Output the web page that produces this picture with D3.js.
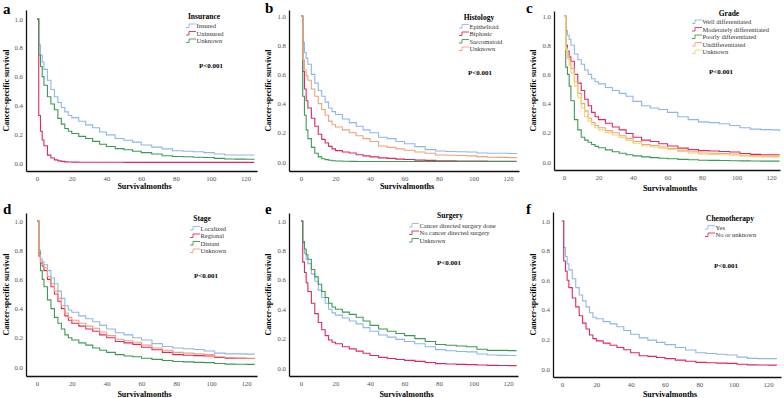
<!DOCTYPE html>
<html><head><meta charset="utf-8">
<script src="https://cdn.jsdelivr.net/npm/d3@7"></script>
<style>
body{margin:0;background:#fff;}
svg{display:block;font-family:"Liberation Serif","DejaVu Serif",serif;}
</style></head>
<body><svg id="c" width="784" height="398"></svg>
<script>
// ---------- DATA ----------
const months = [0,1,2,3,4,6,8,10,12,14,16,18,20,24,28,32,36,40,45,50,55,60,66,72,78,84,90,96,102,108,114,120,125];
const xTicks = [0,20,40,60,80,100,120];
const yTicks = [0,0.2,0.4,0.6,0.8,1.0];

// a: Insurance
const insInsured   = [1,0.82,0.75,0.70,0.65,0.575,0.51,0.46,0.42,0.385,0.355,0.33,0.315,0.29,0.265,0.245,0.215,0.195,0.17,0.158,0.145,0.125,0.11,0.098,0.085,0.082,0.078,0.072,0.062,0.056,0.056,0.056,0.055];
const insUninsured = [1,0.33,0.22,0.16,0.12,0.055,0.035,0.022,0.015,0.011,0.008,0.007,0.006,0.005,0.005,0.005,0.005,0.005,0.005,0.004,0.004,0.004,0.004,0.004,0.004,0.004,0.004,0.004,0.004,0.004,0.004,0.004,0.004];
const insUnknown   = [1,0.75,0.67,0.60,0.54,0.46,0.41,0.37,0.31,0.27,0.24,0.22,0.205,0.185,0.17,0.15,0.13,0.115,0.10,0.092,0.082,0.072,0.062,0.05,0.045,0.043,0.04,0.038,0.032,0.028,0.027,0.026,0.025];

// b: Histology
const hisEpithelioid = [1,0.82,0.75,0.71,0.67,0.60,0.54,0.49,0.45,0.41,0.37,0.345,0.325,0.295,0.27,0.245,0.22,0.20,0.17,0.16,0.14,0.125,0.105,0.085,0.075,0.072,0.07,0.068,0.062,0.06,0.06,0.058,0.055];
const hisBiphasic    = [1,0.62,0.50,0.42,0.37,0.30,0.245,0.19,0.155,0.13,0.107,0.09,0.078,0.068,0.062,0.05,0.042,0.035,0.028,0.025,0.02,0.017,0.013,0.011,0.009,0.008,0.007,0.006,0.006,0.005,0.005,0.005,0.005];
const hisSarcomatoid = [1,0.45,0.32,0.22,0.16,0.10,0.06,0.035,0.022,0.016,0.012,0.009,0.007,0.005,0.004,0.003,0.003,0.003,0.003,0.003,0.003,0.003,0.003,0.003,0.003,0.003,0.003,0.003,0.003,0.003,0.003,0.003,0.003];
const hisUnknown     = [1,0.70,0.63,0.59,0.56,0.50,0.45,0.40,0.36,0.32,0.28,0.255,0.24,0.22,0.20,0.18,0.16,0.14,0.11,0.10,0.09,0.08,0.068,0.06,0.048,0.046,0.045,0.042,0.037,0.033,0.032,0.03,0.028];

// c: Grade
const grWell  = [1,0.90,0.87,0.84,0.80,0.74,0.70,0.67,0.63,0.60,0.57,0.55,0.535,0.51,0.49,0.47,0.45,0.415,0.385,0.37,0.36,0.34,0.31,0.29,0.275,0.27,0.262,0.25,0.235,0.225,0.222,0.22,0.21];
const grMod   = [1,0.80,0.76,0.72,0.69,0.60,0.54,0.49,0.43,0.385,0.34,0.31,0.29,0.265,0.24,0.22,0.195,0.17,0.15,0.14,0.125,0.11,0.095,0.085,0.078,0.075,0.072,0.068,0.058,0.052,0.05,0.05,0.05];
const grPoor  = [1,0.65,0.60,0.52,0.42,0.29,0.22,0.17,0.15,0.135,0.12,0.107,0.098,0.083,0.07,0.06,0.05,0.042,0.035,0.03,0.026,0.022,0.018,0.015,0.012,0.011,0.01,0.009,0.008,0.007,0.006,0.006,0.006];
const grUndiff= [1,0.78,0.73,0.70,0.64,0.55,0.47,0.40,0.35,0.30,0.27,0.25,0.235,0.215,0.20,0.18,0.16,0.14,0.12,0.113,0.103,0.092,0.08,0.07,0.062,0.06,0.058,0.055,0.046,0.042,0.04,0.04,0.04];
const grUnk   = [1,0.77,0.71,0.66,0.61,0.52,0.44,0.37,0.31,0.28,0.255,0.235,0.22,0.20,0.185,0.168,0.148,0.128,0.11,0.103,0.094,0.084,0.072,0.062,0.055,0.052,0.05,0.047,0.04,0.036,0.034,0.033,0.033];

// d: Stage
const stLocal    = [1,0.80,0.74,0.72,0.70,0.66,0.61,0.57,0.52,0.47,0.42,0.39,0.375,0.35,0.33,0.31,0.285,0.26,0.235,0.22,0.20,0.185,0.16,0.14,0.13,0.125,0.12,0.11,0.095,0.09,0.09,0.088,0.088];
const stRegional = [1,0.76,0.71,0.69,0.66,0.60,0.55,0.50,0.45,0.40,0.35,0.32,0.30,0.28,0.26,0.245,0.22,0.20,0.175,0.165,0.155,0.135,0.118,0.10,0.085,0.08,0.078,0.075,0.065,0.06,0.06,0.058,0.058];
const stDistant  = [1,0.78,0.66,0.60,0.55,0.46,0.40,0.34,0.30,0.26,0.22,0.20,0.185,0.165,0.15,0.13,0.115,0.10,0.085,0.075,0.07,0.06,0.052,0.045,0.038,0.035,0.032,0.03,0.024,0.02,0.019,0.018,0.018];
const stUnknown  = [1,0.77,0.72,0.70,0.68,0.62,0.57,0.52,0.47,0.42,0.37,0.34,0.32,0.30,0.28,0.265,0.24,0.215,0.19,0.18,0.17,0.15,0.13,0.115,0.10,0.095,0.09,0.085,0.07,0.065,0.062,0.06,0.06];

// e: Surgery
const suDone    = [1,0.85,0.78,0.74,0.71,0.64,0.59,0.53,0.48,0.44,0.40,0.375,0.36,0.34,0.32,0.30,0.275,0.25,0.225,0.21,0.195,0.18,0.165,0.145,0.125,0.117,0.112,0.11,0.095,0.088,0.086,0.085,0.085];
const suNo      = [1,0.72,0.65,0.58,0.52,0.44,0.37,0.31,0.26,0.22,0.19,0.175,0.165,0.145,0.13,0.115,0.10,0.085,0.072,0.065,0.058,0.052,0.045,0.037,0.03,0.027,0.025,0.023,0.02,0.018,0.017,0.016,0.016];
const suUnknown = [1,0.86,0.81,0.77,0.74,0.67,0.62,0.57,0.52,0.48,0.44,0.415,0.40,0.38,0.365,0.345,0.32,0.29,0.265,0.25,0.235,0.22,0.20,0.18,0.16,0.155,0.15,0.145,0.128,0.12,0.12,0.118,0.118];

// f: Chemotherapy
const chYes = [1,0.82,0.76,0.71,0.67,0.61,0.55,0.50,0.46,0.42,0.38,0.35,0.34,0.32,0.305,0.285,0.26,0.235,0.21,0.195,0.18,0.165,0.145,0.128,0.11,0.105,0.10,0.095,0.08,0.072,0.07,0.07,0.068];
const chNo  = [1,0.73,0.66,0.60,0.55,0.48,0.42,0.36,0.31,0.27,0.23,0.205,0.19,0.175,0.16,0.145,0.13,0.11,0.09,0.085,0.078,0.07,0.06,0.052,0.045,0.042,0.04,0.038,0.032,0.028,0.027,0.026,0.025];

const C = {blue:"#8db8e6", red:"#dc2a5e", green:"#3d9a55", orange:"#f2a07f", yellow:"#f3d56b"};

// ---------- LAYOUT ----------
const panels = [
 {letter:"a", lx:3, ly:14, title:"Insurance", axL:26, axR:257, axT:10, axB:171, x0:37, x120:245.5, y0:163, y1:19,
  legX:186, legTitleY:16, legY0:26, tx:204, px:211, py:65, ytx:6, xty:189,
  series:[["Insured",insInsured,C.blue],["Uninsured",insUninsured,C.red],["Unknown",insUnknown,C.green]]},
 {letter:"b", lx:265, ly:13, title:"Histology", axL:289, axR:519, axT:10, axB:171, x0:301, x120:508, y0:162, y1:16,
  legX:459, legTitleY:17, legY0:26.5, tx:479, px:480, py:72, ytx:268, xty:189,
  series:[["Epithelioid",hisEpithelioid,C.blue],["Biphasic",hisBiphasic,C.red],["Sarcomatoid",hisSarcomatoid,C.green],["Unknown",hisUnknown,C.orange]]},
 {letter:"c", lx:526, ly:13, title:"Grade", axL:554, axR:780, axT:11, axB:170, x0:564, x120:771, y0:162, y1:16,
  legX:692, legTitleY:13, legY0:22, tx:729, px:721, py:71, ytx:533, xty:191,
  series:[["Well differentiated",grWell,C.blue],["Moderately differentiated",grMod,C.red],["Poorly differentiated",grPoor,C.green],["Undifferentiated",grUndiff,C.orange],["Unknown",grUnk,C.yellow]]},
 {letter:"d", lx:3, ly:214, title:"Stage", axL:26, axR:257, axT:213, axB:376, x0:37, x120:246, y0:367, y1:221,
  legX:190, legTitleY:218, legY0:228.5, tx:202, px:206, py:275, ytx:6, xty:397,
  series:[["Localized",stLocal,C.blue],["Regional",stRegional,C.red],["Distant",stDistant,C.green],["Unknown",stUnknown,C.orange]]},
 {letter:"e", lx:265, ly:214, title:"Surgery", axL:289, axR:518, axT:213, axB:376, x0:301, x120:508, y0:368, y1:221,
  legX:409, legTitleY:215, legY0:225.5, tx:450, px:449, py:262, ytx:268, xty:397,
  series:[["Cancer directed surgery done",suDone,C.blue],["No cancer directed surgery",suNo,C.red],["Unknown",suUnknown,C.green]]},
 {letter:"f", lx:526, ly:214, title:"Chemotherapy", axL:553, axR:781, axT:212, axB:377, x0:562, x120:768, y0:369, y1:221,
  legX:705, legTitleY:218, legY0:227.5, tx:730, px:726, py:265, ytx:533, xty:397,
  series:[["Yes",chYes,C.blue],["No or unknown",chNo,C.red]]}
];

const svg = d3.select("#c");

panels.forEach(p => {
  const g = svg.append("g");
  const k = (p.x120 - p.x0) / 120;
  const x = d3.scaleLinear().domain([(p.axL - p.x0)/k, (p.axR - p.x0)/k]).range([p.axL, p.axR]);
  const ky = (p.y0 - p.y1);
  const y = d3.scaleLinear().domain([-(p.axB - p.y0)/ky, 1 + (p.y1 - p.axT)/ky]).range([p.axB, p.axT]);

  const xa = g.append("g").attr("transform", `translate(0,${p.axB})`)
    .call(d3.axisBottom(x).tickValues(xTicks).tickSize(0).tickPadding(5).tickFormat(d3.format("d")));
  const ya = g.append("g").attr("transform", `translate(${p.axL},0)`)
    .call(d3.axisLeft(y).tickValues(yTicks).tickSize(0).tickPadding(3).tickFormat(d3.format(".1f")));
  [xa, ya].forEach(a => {
    a.select(".domain").attr("stroke", "#111").attr("stroke-width", 1.3);
    a.selectAll("text").attr("fill", "#555").style("font-size", "6.8px").style("font-family", "'Liberation Serif',serif");
  });

  const line = d3.line().x((d, i) => x(months[i])).y(d => y(d)).curve(d3.curveStepAfter);
  p.series.forEach(s => {
    g.append("path").datum(s[1]).attr("d", line).attr("fill", "none")
      .attr("stroke", s[2]).attr("stroke-width", 1.1);
  });

  g.append("text").attr("x", p.lx).attr("y", p.ly).text(p.letter)
    .style("font-size", "15px").style("font-weight", "bold").attr("fill", "#000");

  g.append("text").attr("x", (p.axL + p.axR)/2 + 3).attr("y", p.xty).attr("text-anchor", "middle")
    .text("Survivalmonths").style("font-size", "8px").style("font-weight", "bold");
  g.append("text").attr("transform", `translate(${p.ytx + 3},${(p.axT + p.axB)/2}) rotate(-90)`)
    .attr("text-anchor", "middle").text("Cancer-specific survival")
    .style("font-size", "8px").style("font-weight", "bold");

  g.append("text").attr("x", p.tx).attr("y", p.legTitleY + 2.5).attr("text-anchor", "middle")
    .text(p.title).style("font-size", "7.5px").style("font-weight", "bold");
  p.series.forEach((s, i) => {
    const yy = p.legY0 + i * 7.5;
    g.append("path").attr("d", `M${p.legX},${yy + 1.5}H${p.legX + 3}V${yy - 2}H${p.legX + 10}`)
      .attr("fill", "none").attr("stroke", s[2]).attr("stroke-width", 0.9);
    g.append("text").attr("x", p.legX + 10.5).attr("y", yy + 2).text(s[0])
      .style("font-size", "6.5px").attr("fill", "#333");
  });

  g.append("text").attr("x", p.px).attr("y", p.py + 2.5).attr("text-anchor", "middle")
    .text("P<0.001").style("font-size", "7px").style("font-weight", "bold");
});
</script>
</body></html>
